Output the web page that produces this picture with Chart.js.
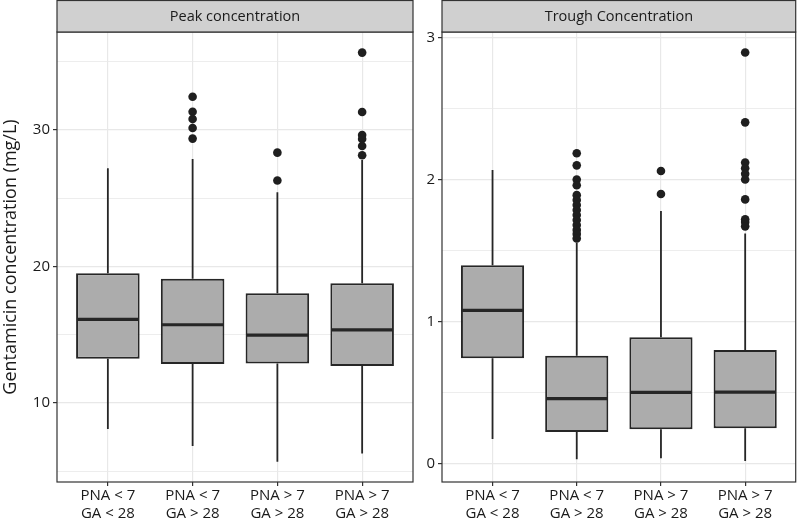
<!DOCTYPE html>
<html>
<head>
<meta charset="utf-8">
<script src="https://cdn.jsdelivr.net/npm/chart.js@4/dist/chart.umd.min.js"></script>
<style>
  html, body { margin: 0; padding: 0; background: #fff; }
  #wrap { position: relative; width: 800px; height: 521px; }
  #peak { position: absolute; left: 0; top: 0; }
  #trough { position: absolute; left: 420px; top: 0; }
</style>
</head>
<body>
<div id="wrap">
  <canvas id="peak" width="420" height="521"></canvas>
  <canvas id="trough" width="380" height="521"></canvas>
</div>
<script>
/* ---- data ---- */
const groupLabels = [
  ["PNA < 7", "GA < 28"],
  ["PNA < 7", "GA > 28"],
  ["PNA > 7", "GA > 28"],
  ["PNA > 7", "GA > 28"],
];
const yTitle = "Gentamicin concentration (mg/L)";

// Peak concentration
const peakTitle = "Peak concentration";
const peakLow = [8.1, 6.85, 5.7, 6.3];
const peakQ1 = [13.24, 12.86, 12.9, 12.71];
const peakMedian = [16.12, 15.73, 14.97, 15.36];
const peakQ3 = [19.51, 19.1, 18.04, 18.78];
const peakHigh = [27.2, 27.88, 25.44, 27.8];
const peakOutliers = [
  [],
  [32.44, 31.34, 30.8, 30.15, 29.37],
  [28.34, 26.3],
  [35.67, 31.32, 29.63, 29.34, 28.83, 28.15],
];

// Trough concentration
const troughTitle = "Trough Concentration";
const troughLow = [0.171, 0.028, 0.035, 0.016];
const troughQ1 = [0.74, 0.22, 0.24, 0.247];
const troughMedian = [1.078, 0.455, 0.5, 0.502];
const troughQ3 = [1.395, 0.758, 0.888, 0.798];
const troughHigh = [2.067, 1.555, 1.778, 1.62];
const troughOutliers = [
  [],
  [2.185, 2.1, 2.0, 1.96, 1.89, 1.856, 1.82, 1.785, 1.75, 1.715, 1.68, 1.645, 1.617, 1.585],
  [2.06, 1.898],
  [2.896, 2.403, 2.12, 2.08, 2.04, 2.0, 1.86, 1.72, 1.7, 1.67],
];

/* ---- styles ---- */
const FONT = "'Open Sans', 'DejaVu Sans', sans-serif";
const INK = "#262626";
const BOX_FILL = "#acacac";
const GRID = "#e8e8e8";

// whiskers, medians, panel border, strip
const boxPlugin = {
  id: "boxExtras",
  beforeDatasetsDraw(chart) {
    const { ctx } = chart;
    const st = chart.config.options.boxStats;
    const x = chart.scales.x, y = chart.scales.y;
    ctx.save();
    ctx.strokeStyle = INK;
    ctx.lineWidth = 1.8;
    st.low.forEach((lo, i) => {
      const px = x.getPixelForValue(i + 1);
      ctx.beginPath();
      ctx.moveTo(px, y.getPixelForValue(st.high[i]));
      ctx.lineTo(px, y.getPixelForValue(st.q3[i]));
      ctx.moveTo(px, y.getPixelForValue(st.q1[i]));
      ctx.lineTo(px, y.getPixelForValue(lo));
      ctx.stroke();
    });
    ctx.restore();
  },
  afterDatasetsDraw(chart) {
    const { ctx, chartArea: a } = chart;
    const st = chart.config.options.boxStats;
    const y = chart.scales.y;
    const meta = chart.getDatasetMeta(0);
    ctx.save();
    ctx.strokeStyle = INK;
    ctx.lineWidth = 3.2;
    meta.data.forEach((bar, i) => {
      const half = bar.width / 2;
      const py = y.getPixelForValue(st.median[i]);
      ctx.beginPath();
      ctx.moveTo(bar.x - half + 1, py);
      ctx.lineTo(bar.x + half - 1, py);
      ctx.stroke();
    });
    // panel border
    ctx.lineWidth = 1.2;
    ctx.strokeStyle = "#333";
    ctx.strokeRect(a.left, a.top, a.right - a.left, a.bottom - a.top);
    // strip
    ctx.fillStyle = "#d0d0d0";
    ctx.fillRect(a.left, 0.5, a.right - a.left, a.top - 0.5);
    ctx.strokeRect(a.left, 0.5, a.right - a.left, a.top - 0.5);
    ctx.fillStyle = "#1a1a1a";
    ctx.font = "14.5px " + FONT;
    ctx.textAlign = "center";
    ctx.textBaseline = "middle";
    ctx.fillText(chart.config.options.stripTitle, (a.left + a.right) / 2, a.top / 2 + 1);
    ctx.restore();
  },
};

function isMajor(v, major) {
  const r = v / major;
  return Math.abs(r - Math.round(r)) < 1e-6;
}

function makePanel(id, title, low, q1, median, q3, high, outliers, yMin, yMax, major, yAxisWidth, padRight, showTitle) {
  const outlierPts = [];
  outliers.forEach((list, i) => list.forEach((v) => outlierPts.push({ x: i + 1, y: v })));

  return new Chart(document.getElementById(id), {
    type: "bar",
    data: {
      datasets: [
        {
          type: "bar",
          data: q1.map((v, i) => ({ x: i + 1, y: [v, q3[i]] })),
          backgroundColor: BOX_FILL,
          borderColor: INK,
          borderWidth: 2,
          borderSkipped: false,
          barPercentage: 0.75,
          categoryPercentage: 1,
        },
        {
          type: "scatter",
          data: outlierPts,
          pointRadius: 4.3,
          pointBackgroundColor: "#1f1f1f",
          pointBorderWidth: 0,
          showLine: false,
        },
      ],
    },
    options: {
      responsive: false,
      animation: false,
      stripTitle: title,
      boxStats: { low, q1, median, q3, high },
      layout: { padding: { top: 32, right: padRight, left: 0, bottom: 0 } },
      plugins: { legend: { display: false }, tooltip: { enabled: false } },
      scales: {
        x: {
          type: "linear",
          min: 0.4,
          max: 4.6,
          offset: false,
          border: { display: false },
          grid: { offset: false, color: GRID, lineWidth: 1.2, tickLength: 4, tickColor: "#333" },
          ticks: {
            stepSize: 1,
            includeBounds: false,
            autoSkip: false,
            maxRotation: 0,
            padding: 1,
            color: "#1a1a1a",
            font: { family: FONT, size: 15, lineHeight: 1.2 },
            callback: (v) => (Number.isInteger(v) ? groupLabels[v - 1] : ""),
          },
          afterFit: (s) => { s.height = 39; },
        },
        y: {
          type: "linear",
          min: yMin,
          max: yMax,
          border: { display: false },
          grid: {
            color: GRID,
            lineWidth: (c) => (c.tick && isMajor(c.tick.value, major) ? 1.2 : 0.8),
            tickLength: 4,
            tickColor: (c) => (c.tick && isMajor(c.tick.value, major) ? "#333" : "rgba(0,0,0,0)"),
          },
          ticks: {
            stepSize: major / 2,
            includeBounds: false,
            padding: 3,
            color: "#1a1a1a",
            font: { family: FONT, size: 15 },
            callback: (v) => (isMajor(v, major) ? String(Math.round(v)) : ""),
          },
          title: {
            display: showTitle,
            text: yTitle,
            color: "#1a1a1a",
            font: { family: FONT, size: 18 },
            padding: { top: 0, bottom: 0 },
          },
          afterFit: (s) => { s.width = yAxisWidth; },
        },
      },
    },
    plugins: [boxPlugin],
  });
}

makePanel("peak", peakTitle, peakLow, peakQ1, peakMedian, peakQ3, peakHigh, peakOutliers,
  4.21, 37.18, 10, 57, 7, true);
makePanel("trough", troughTitle, troughLow, troughQ1, troughMedian, troughQ3, troughHigh, troughOutliers,
  -0.132, 3.04, 1, 22, 1, false);
</script>
</body>
</html>
